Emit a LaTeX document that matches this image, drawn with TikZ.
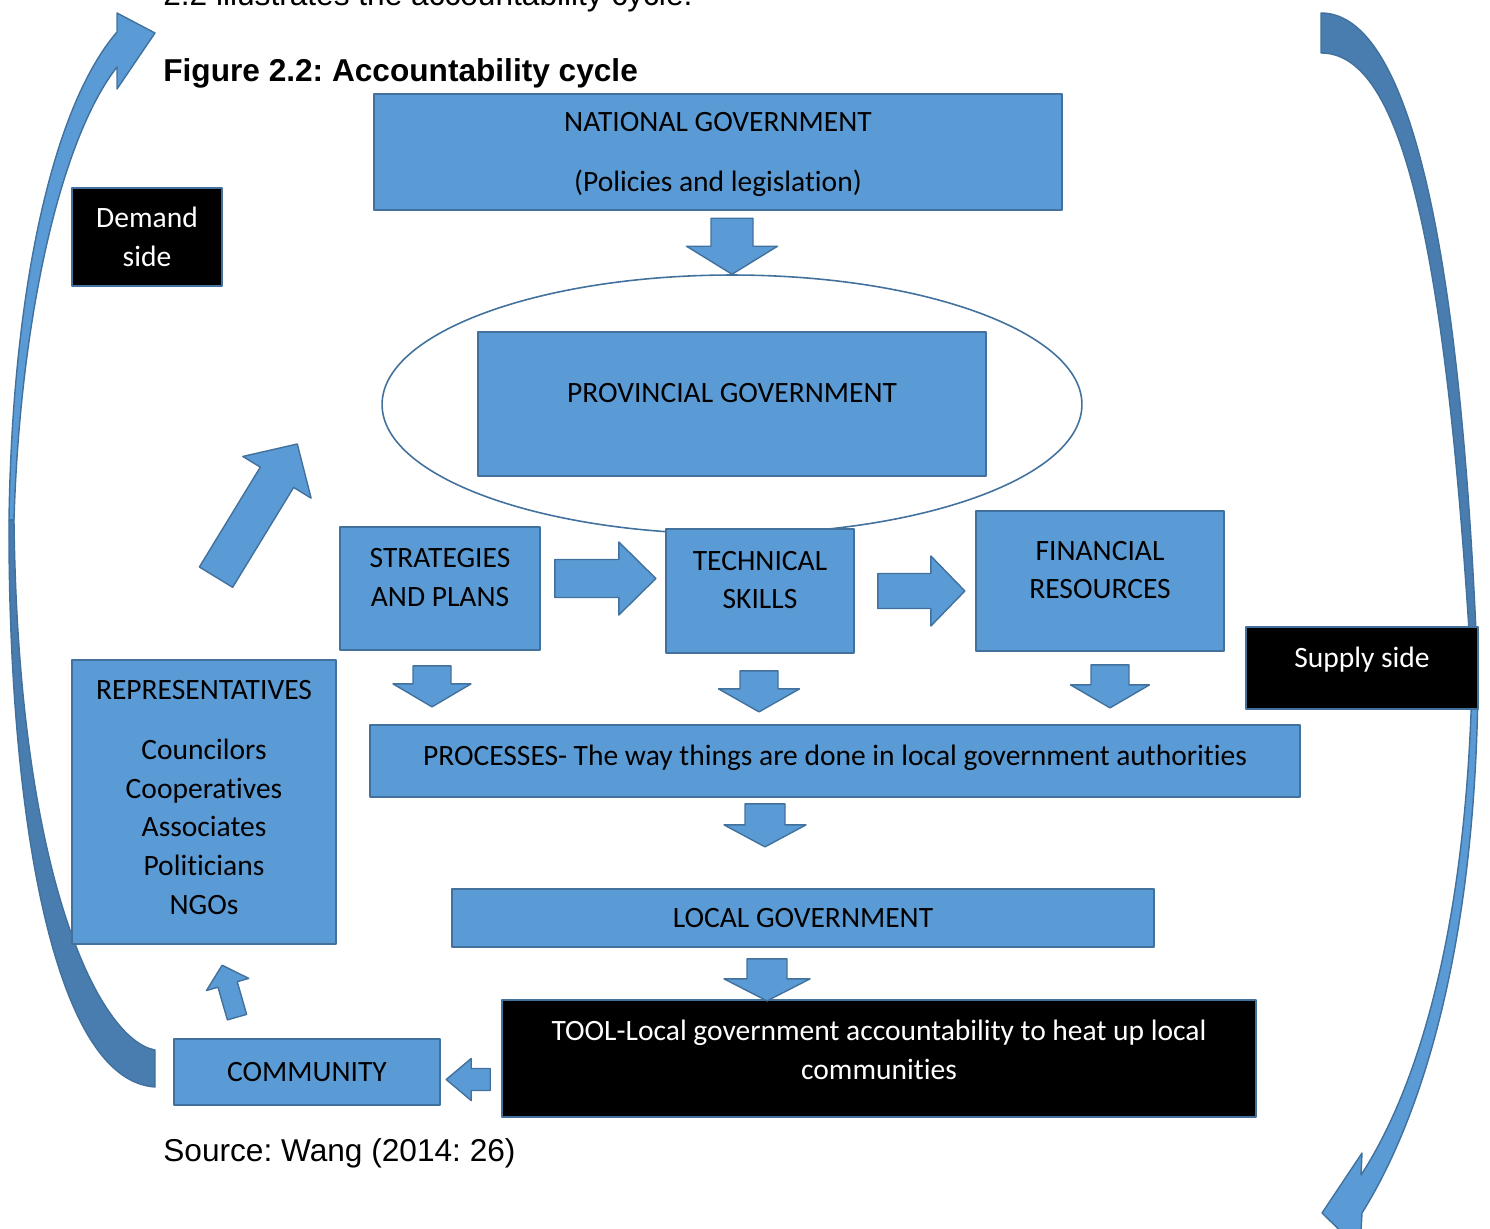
\documentclass[tikz,border=0pt]{standalone}
\usepackage{fontspec}
\setmainfont{Carlito}[Ligatures=CommonOff]
\newfontfamily\arial{Liberation Sans}
\usetikzlibrary{shapes.geometric,calc}
\definecolor{boxfill}{HTML}{5B9BD5}
\definecolor{boxline}{HTML}{41719C}
\definecolor{backside}{HTML}{497DB0}
\frenchspacing

\begin{document}
\begin{tikzpicture}[
  x=0.02cm, y=-0.02cm, line join=round,
  bluebox/.style={draw=boxline, fill=boxfill, line width=1pt, align=center,
                  inner sep=2pt, font=\fontsize{16.8}{22}\selectfont},
  darkbox/.style={bluebox, fill=black, text=white},
  lift/.style={text depth=#1},
  sweep/.style={draw=boxline, line width=0.8pt},
  plain/.style={font=\arial\fontsize{18}{22}\selectfont, anchor=base west, inner sep=0pt},
  % length, shaft, head width, head length (px)
  pics/blockarrow/.style n args={4}{code={
    \filldraw[draw=boxline, fill=boxfill, line width=0.8pt]
      (0,{-#2/2}) -- ({#1-#4},{-#2/2}) -- ({#1-#4},{-#3/2}) -- (#1,0)
      -- ({#1-#4},{#3/2}) -- ({#1-#4},{#2/2}) -- (0,{#2/2}) -- cycle;}}]

\useasboundingbox (0,0) rectangle (1490,1229);

% the two sides of the cycle
\filldraw[sweep, fill=boxfill] (117,32) .. controls (50,110) and (12,300) .. (9,520)
  -- (14,520) .. controls (20,320) and (60,140) .. (117,67)
  -- (117,89) -- (155,33) -- (117,13) -- cycle;
\filldraw[sweep, fill=backside] (9,520) .. controls (8,800) and (50,1080) .. (155,1087)
  -- (155,1050) .. controls (100,1040) and (18,880) .. (14,520) -- cycle;
\filldraw[sweep, fill=backside] (1321,13) .. controls (1400,13) and (1460,200) .. (1478,680)
  -- (1472,680) .. controls (1445,210) and (1395,53) .. (1321,53) -- cycle;
\filldraw[sweep, fill=boxfill] (1478,680) .. controls (1476,950) and (1420,1120) .. (1362,1213)
  -- (1360,1250) -- (1322,1213) -- (1362,1153) -- (1361,1175)
  .. controls (1410,1100) and (1466,950) .. (1472,680) -- cycle;

\node[plain] (lead) at (163,6) {2.2 illustrates the accountability cycle.};
\node[plain, font=\arial\bfseries\fontsize{18}{22}\selectfont] (title) at (163,81.5)
  {Figure 2.2: Accountability cycle};
\node[plain] (source) at (163,1161) {Source: Wang (2014: 26)};

\node[ellipse, draw=boxline, line width=0.9pt, inner sep=0pt,
      minimum width=14cm, minimum height=5.18cm] (provell) at (732,404.5) {};

\node[bluebox, lift=-0.1cm, minimum width=13.76cm, minimum height=2.32cm] (natl) at (718,152)
  {NATIONAL GOVERNMENT\\[12pt] (Policies and legislation)};
\node[bluebox, lift=0.44cm, minimum width=10.16cm, minimum height=2.88cm] (prov) at (732,404)
  {PROVINCIAL GOVERNMENT};
\node[darkbox, minimum width=3cm, minimum height=1.96cm] (demand) at (147,237)
  {Demand\\ side};
\node[bluebox, lift=0.44cm, minimum width=4cm, minimum height=2.46cm] (strat) at (440,588.5)
  {STRATEGIES\\ AND PLANS};
\node[bluebox, lift=0.44cm, minimum width=3.76cm, minimum height=2.48cm] (tech) at (760,591)
  {TECHNICAL\\ SKILLS};
\node[bluebox, lift=0.44cm, minimum width=4.96cm, minimum height=2.8cm] (fin) at (1100,581)
  {FINANCIAL\\ RESOURCES};
\node[darkbox, lift=0.44cm, minimum width=4.64cm, minimum height=1.64cm] (supply) at (1362,668)
  {Supply side};
\node[bluebox, lift=0.18cm, minimum width=5.28cm, minimum height=5.68cm] (reps) at (204,802)
  {REPRESENTATIVES\\[12pt] Councilors\\ Cooperatives\\ Associates\\ Politicians\\ NGOs};
\node[bluebox, lift=0.23cm, minimum width=18.6cm, minimum height=1.44cm] (proc) at (835,761)
  {PROCESSES- The way things are done in local government authorities};
\node[bluebox, minimum width=14.04cm, minimum height=1.16cm] (local) at (803,918)
  {LOCAL GOVERNMENT};
\node[darkbox, lift=0.36cm, minimum width=15.08cm, minimum height=2.34cm] (tool) at (879,1058.5)
  {TOOL-Local government accountability to heat up local\\ communities};
\node[bluebox, minimum width=5.32cm, minimum height=1.32cm] (comm) at (307,1072)
  {COMMUNITY};

% block arrows between the boxes
\pic[rotate=-90] (n2p) at ($(provell.north)+(0,-56)$) {blockarrow={56}{42}{91}{28}};
\pic[rotate=-90] (s2c) at ($(strat.south)+(-8,15)$) {blockarrow={41}{38}{78}{23}};
\pic[rotate=-90] (t2c) at ($(tech.south)+(-1,17)$) {blockarrow={41}{38}{81}{23}};
\pic[rotate=-90] (f2c) at ($(fin.south)+(10,13)$) {blockarrow={43}{38}{79}{23}};
\pic (s2t) at ($(strat.east)+(14,-10)$) {blockarrow={101}{38}{73}{37}};
\pic (t2f) at ($(tech.east)+(23,0)$) {blockarrow={87}{35}{70}{34}};
\pic[rotate=-90] (c2l) at ($(proc.south)+(-70,6)$) {blockarrow={43}{40}{82}{22}};
\pic[rotate=-90] (l2t) at ($(local.south)+(-36,11)$) {blockarrow={42}{40}{86}{22}};
\pic[rotate=180] (t2m) at ($(tool.west)+(-11,21)$) {blockarrow={44}{22}{42}{25}};
\pic[rotate=106] (m2r) at ($(comm.north)+(-70,-21)$) {blockarrow={54}{20}{44}{20}};
\pic[rotate=58.6] (r2p) at ($(reps.north)+(12,-82)$) {blockarrow={156}{39}{80}{39}};

\end{tikzpicture}
\end{document}
